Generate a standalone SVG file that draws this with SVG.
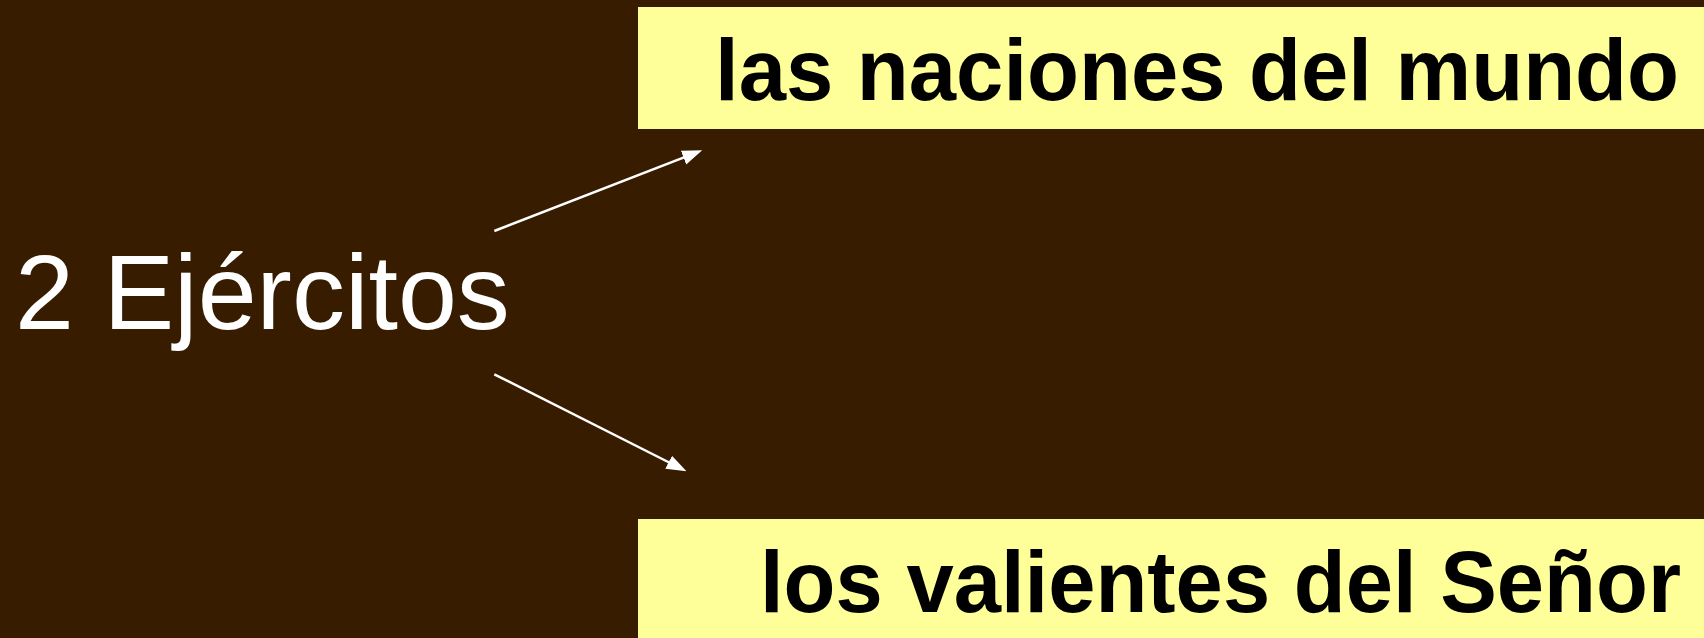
<svg xmlns="http://www.w3.org/2000/svg" width="1704" height="638" viewBox="0 0 1704 638">
  <defs>
    <style>
      .box { fill: #FFFF99; }
      .label { font-family: "Liberation Sans", Arial, sans-serif; font-weight: bold; font-size: 87px; fill: #000000; }
      .main { font-family: "Liberation Sans", Arial, sans-serif; font-size: 106px; fill: #FFFFFF; }
      .conn { stroke: #FFFFFF; stroke-width: 2.5; fill: none; marker-end: url(#arrow); }
    </style>
    <marker id="arrow" markerUnits="userSpaceOnUse" markerWidth="20" markerHeight="16" refX="9" refY="7" orient="auto" viewBox="0 0 19 14">
      <path d="M0,0 L19,7 L0,14 Z" fill="#FFFFFF"/>
    </marker>
  </defs>
  <rect x="0" y="0" width="1704" height="638" fill="#381C00"/>
  <g id="node-ejercitos">
    <text class="main" x="15" y="329">2 Ejércitos</text>
  </g>
  <g id="node-naciones">
    <rect class="box" x="638" y="7" width="1066" height="122"/>
    <text class="label" x="715" y="100" textLength="964" lengthAdjust="spacingAndGlyphs">las naciones del mundo</text>
  </g>
  <g id="node-valientes">
    <rect class="box" x="638" y="519" width="1066" height="119"/>
    <text class="label" x="760" y="612" textLength="921" lengthAdjust="spacingAndGlyphs">los valientes del Señor</text>
  </g>
  <g id="connectors">
    <line class="conn" x1="494.3" y1="231" x2="692.4" y2="154.1"/>
    <line class="conn" x1="494.3" y1="374.3" x2="677.1" y2="466.5"/>
  </g>
</svg>
